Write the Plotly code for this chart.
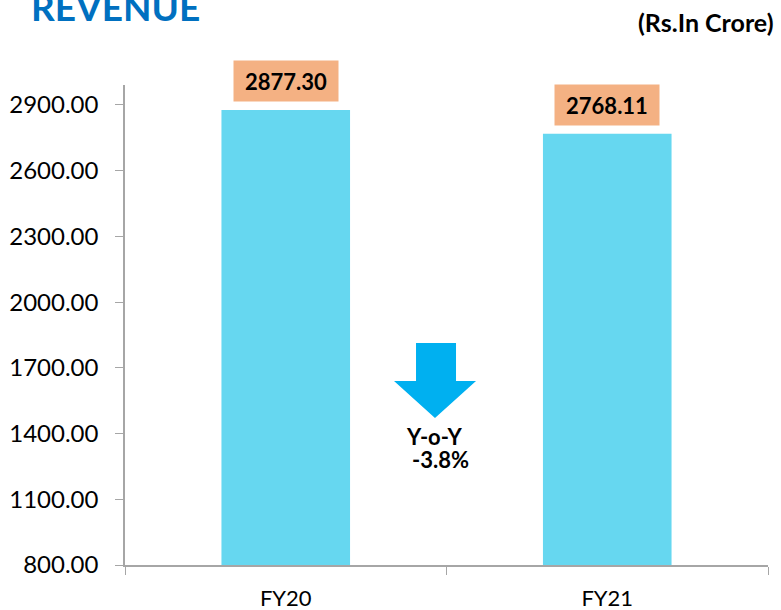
import plotly.graph_objects as go

categories = ["FY20", "FY21"]
revenue = [2877.30, 2768.11]
value_labels = ["2877.30", "2768.11"]
yoy_label = "Y-o-Y"
yoy_value = "-3.8%"
tick_vals = [800, 1100, 1400, 1700, 2000, 2300, 2600, 2900]

FONT = "Lato"

fig = go.Figure()
fig.add_trace(go.Bar(
    x=categories,
    y=revenue,
    marker=dict(color="#66D7F0", line=dict(width=0)),
    hoverinfo="x+y",
))

# value boxes above bars
for cat, val, lab in zip(categories, revenue, value_labels):
    fig.add_annotation(
        x=cat, y=val, xref="x", yref="y",
        text=f"<b>{lab}</b>", showarrow=False,
        yanchor="bottom", yshift=8,
        bgcolor="#F4B183", width=100, height=36, borderpad=2,
        font=dict(family=FONT, size=22, color="black"),
    )

# down arrow
fig.add_shape(
    type="path", xref="paper", yref="paper",
    path="M 0.4526 0.4625 L 0.5148 0.4625 L 0.5148 0.3833 L 0.5459 0.3833 "
         "L 0.4821 0.3063 L 0.4184 0.3833 L 0.4526 0.3833 Z",
    fillcolor="#00B0F0", line=dict(width=0),
)
fig.add_annotation(x=0.4821, y=0.235, xref="paper", yref="paper",
                   text=f"<b>{yoy_label}</b>", showarrow=False,
                   font=dict(family=FONT, size=22, color="black"))
fig.add_annotation(x=0.4914, y=0.187, xref="paper", yref="paper",
                   text=f"<b>{yoy_value}</b>", showarrow=False,
                   font=dict(family=FONT, size=22, color="black"))

# title and unit
fig.add_annotation(x=-0.15, y=1.113, xref="paper", yref="paper",
                   text="<b>REVENUE</b>", showarrow=False,
                   xanchor="left", yanchor="bottom",
                   font=dict(family=FONT, size=37, color="#0070C0"))
fig.add_annotation(x=1.013, y=1.132, xref="paper", yref="paper",
                   text="<b>(Rs.In Crore)</b>", showarrow=False,
                   xanchor="right", yanchor="middle",
                   font=dict(family=FONT, size=25, color="black"))

fig.update_layout(
    width=781, height=610,
    margin=dict(l=125, r=13, t=85, b=45),
    paper_bgcolor="white", plot_bgcolor="white",
    bargap=0.6, showlegend=False,
    font=dict(family=FONT, size=22, color="black"),
)
fig.update_xaxes(
    automargin=False,
    showline=True, linecolor="#A6A6A6", linewidth=1.5,
    ticks="outside", tickson="boundaries", ticklen=8, tickcolor="#A6A6A6",
    ticklabelstandoff=13,
    showgrid=False, tickfont=dict(family=FONT, size=22, color="black"),
)
fig.update_yaxes(
    automargin=False,
    range=[800, 2991], tickvals=tick_vals, tickformat=".2f",
    showline=True, linecolor="#A6A6A6", linewidth=1.5,
    ticks="outside", ticklen=8, tickcolor="#A6A6A6",
    ticklabelstandoff=12,
    showgrid=False, zeroline=False,
    tickfont=dict(family=FONT, size=24, color="black"),
)

# page body has a default 8px margin; drop it so the chart fills the window
fig.write_html("out.html", config={"displayModeBar": False},
               post_script="document.body.style.margin='0px';")
